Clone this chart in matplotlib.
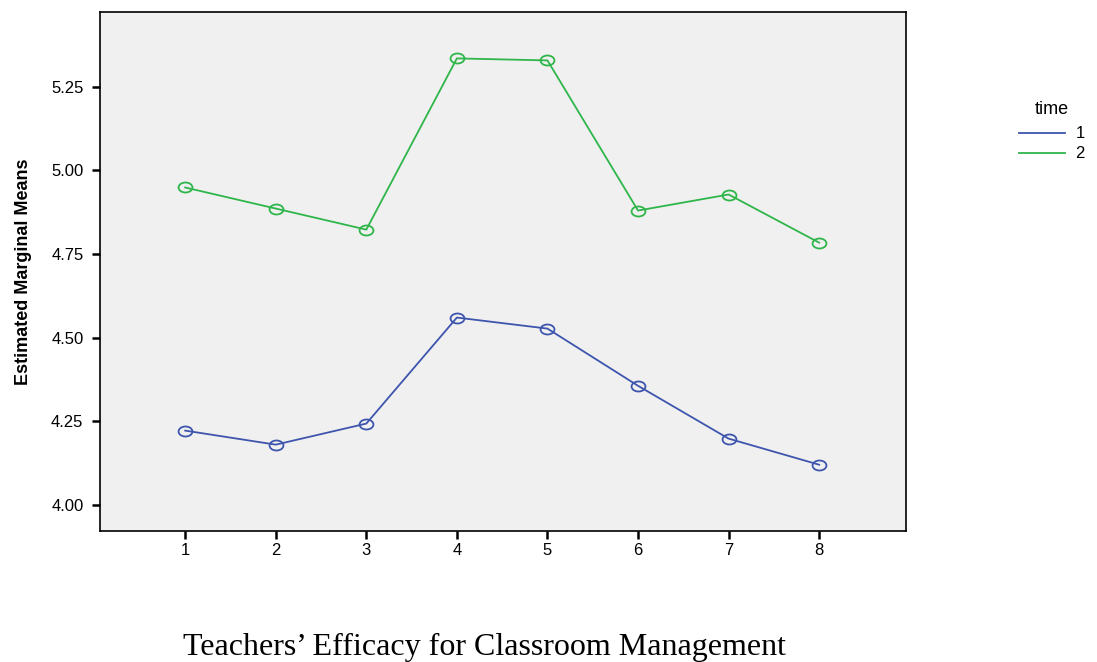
import matplotlib
matplotlib.use('Agg')
import matplotlib.pyplot as plt
from matplotlib.path import Path

# estimated marginal means
groups = [1, 2, 3, 4, 5, 6, 7, 8]
time1 = [4.222, 4.180, 4.243, 4.560, 4.527, 4.356, 4.198, 4.120]
time2 = [4.949, 4.886, 4.823, 5.335, 5.329, 4.880, 4.928, 4.784]
yticks = [4.00, 4.25, 4.50, 4.75, 5.00, 5.25]

# the original markers are slightly flattened circles
circ = Path.unit_circle()
ellipse = Path(circ.vertices * [1.0, 0.72], circ.codes)

fig = plt.figure(figsize=(10.97, 6.62), dpi=100)
ax = fig.add_axes([0.0912, 0.198, 0.7348, 0.784])
ax.set_facecolor('#f0f0f0')

l1, = ax.plot(groups, time1, color='#3e55ae', lw=1.3, marker=ellipse, ms=10,
              mfc='none', mec='#3e55ae', mew=1.3, label='1')
l2, = ax.plot(groups, time2, color='#2fb64a', lw=1.3, marker=ellipse, ms=10,
              mfc='none', mec='#2fb64a', mew=1.3, label='2')

ax.set_xlim(0.06, 8.96)
ax.set_ylim(3.922, 5.474)
ax.set_xticks(groups)
ax.set_yticks(yticks)
ax.set_yticklabels(['%.2f' % v for v in yticks])
ax.tick_params(labelsize=12, length=6, width=1.8, direction='out', pad=3)
ax.tick_params(axis='y', pad=6)
for lab in ax.get_xticklabels() + ax.get_yticklabels():
    lab.set_fontfamily(['Liberation Sans', 'DejaVu Sans'])
for s in ax.spines.values():
    s.set_linewidth(1.2)

ax.set_ylabel('Estimated Marginal Means', fontsize=13, fontweight='bold',
              family=['Liberation Sans Narrow', 'Liberation Sans'], labelpad=14)

leg = fig.legend(handles=[l1, l2], labels=['1', '2'], title='time',
                 loc='upper left', bbox_to_anchor=(0.915, 0.865), frameon=False,
                 fontsize=12, title_fontsize=13, handlelength=2.8,
                 handletextpad=0.6, labelspacing=0.3)
for h in leg.legend_handles:
    h.set_marker('')
for t in leg.get_texts() + [leg.get_title()]:
    t.set_fontfamily(['Liberation Sans', 'DejaVu Sans'])
leg.get_title().set_position((0, 3))

fig.text(0.442, 0.022, 'Teachers\u2019 Efficacy for Classroom Management',
         ha='center', va='center', fontsize=23, family='Liberation Serif')

fig.savefig('out.png', dpi=100)
